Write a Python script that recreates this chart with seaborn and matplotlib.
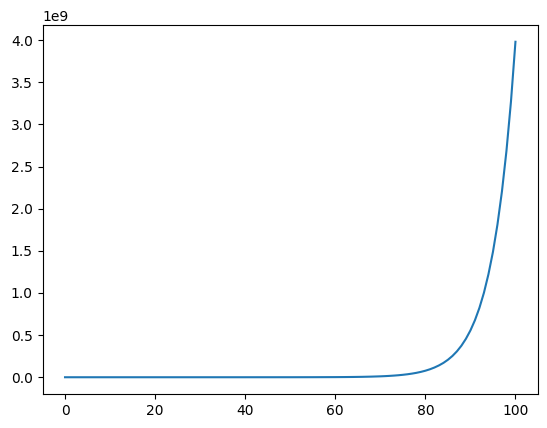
import matplotlib
matplotlib.use("Agg")
import matplotlib.pyplot as plt
import seaborn as sns
import pandas as pd

# values (y in units of 1e9)
x_vals = [0, 10, 20, 30, 40, 50, 55, 60, 62, 64, 66, 68, 70, 71, 72, 73, 74, 75,
          76, 77, 78, 79, 80, 81, 82, 83, 84, 85, 86, 87, 88, 89, 90, 91, 92,
          93, 94, 95, 96, 97, 98, 99, 100]
y_vals_e9 = [0.0, 0.0, 0.0, 0.0, 0.00003, 0.0002, 0.0006, 0.0015, 0.0022, 0.0033,
             0.0049, 0.0073, 0.0108, 0.0131, 0.0160, 0.0195, 0.0237, 0.0289,
             0.0352, 0.0429, 0.0522, 0.0636, 0.0774, 0.0943, 0.115, 0.140, 0.170,
             0.207, 0.252, 0.307, 0.374, 0.456, 0.555, 0.676, 0.823, 1.002, 1.221,
             1.486, 1.810, 2.204, 2.684, 3.268, 3.980]

df = pd.DataFrame({"x": x_vals, "y": [v * 1e9 for v in y_vals_e9]})

fig = plt.figure(figsize=(5.47, 4.28), dpi=100)
ax = fig.add_axes([0.0777, 0.0794, 0.9058, 0.8622])
sns.lineplot(data=df, x="x", y="y", ax=ax, color="#1f77b4", linewidth=1.5)
ax.set_xlabel("")
ax.set_ylabel("")
ax.set_xticks([0, 20, 40, 60, 80, 100])

fig.savefig("out.png", dpi=100)
